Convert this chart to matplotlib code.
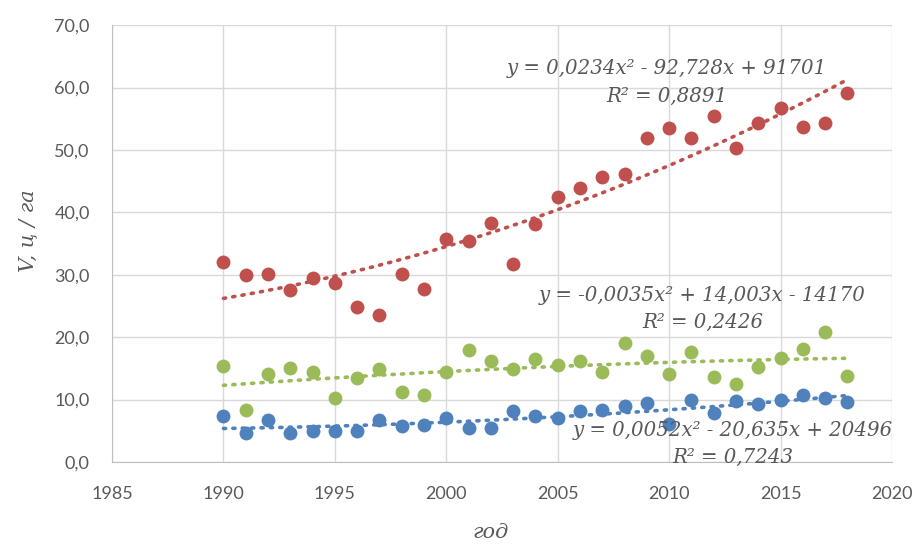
import matplotlib
matplotlib.use("Agg")
import matplotlib.pyplot as plt
from matplotlib.ticker import FuncFormatter, MultipleLocator
import numpy as np

years = list(range(1990, 2019))

red_vals = [32.1, 30.0, 30.2, 27.5, 29.5, 28.7, 24.8, 23.5, 30.2, 27.7,
            35.7, 35.4, 38.3, 31.8, 38.1, 42.5, 43.9, 45.7, 46.2, 51.9,
            53.5, 52.0, 55.5, 50.4, 54.3, 56.7, 53.7, 54.3, 59.2]
green_vals = [15.4, 8.3, 14.1, 15.1, 14.4, 10.2, 13.5, 14.9, 11.2, 10.7,
              14.4, 17.9, 16.2, 14.9, 16.5, 15.6, 16.2, 14.4, 19.1, 17.0,
              14.1, 17.6, 13.6, 12.5, 15.3, 16.7, 18.1, 20.9, 13.8]
blue_vals = [7.3, 4.6, 6.8, 4.6, 4.9, 4.9, 4.9, 6.8, 5.7, 5.9,
             7.0, 5.4, 5.4, 8.1, 7.3, 7.0, 8.1, 8.3, 9.0, 9.4,
             6.1, 9.9, 7.8, 9.8, 9.3, 9.9, 10.7, 10.2, 9.6]

eq_texts = [
    ("y = 0,0234x² - 92,728x + 91701", "R² = 0,8891"),
    ("y = -0,0035x² + 14,003x - 14170", "R² = 0,2426"),
    ("y = 0,0052x² - 20,635x + 20496", "R² = 0,7243"),
]

COLORS = ["#C0504D", "#9BBB59", "#4F81BD"]
TXT = "#595959"
GRID = "#D9D9D9"

fig = plt.figure(figsize=(9.22, 5.44), dpi=100)
ax = fig.add_axes([0.1215, 0.1507, 0.846, 0.803])

x = np.array(years, dtype=float)
for vals, col in zip([red_vals, green_vals, blue_vals], COLORS):
    y = np.array(vals)
    ax.scatter(x, y, s=100, color=col, linewidths=0, zorder=3)
    coef = np.polyfit(x, y, 2)
    xs = np.linspace(x[0], x[-1], 200)
    ax.plot(xs, np.polyval(coef, xs), color=col, lw=2.6,
            linestyle=(0, (0.6, 2.0)), dash_capstyle="round", zorder=4)

# equation labels (data coords)
pos = [(2009.9, 63.0, 58.6), (2011.5, 26.7, 22.3), (2012.85, 5.1, 0.7)]
for (eq, r2), (px, py1, py2) in zip(eq_texts, pos):
    ax.text(px, py1, eq, ha="center", va="center", fontsize=14.2,
            family="DejaVu Serif", style="italic", color=TXT, zorder=5)
    ax.text(px, py2, r2, ha="center", va="center", fontsize=14.2,
            family="DejaVu Serif", style="italic", color=TXT, zorder=5)

ax.set_xlim(1985, 2020)
ax.set_ylim(0, 70)
ax.xaxis.set_major_locator(MultipleLocator(5))
ax.yaxis.set_major_locator(MultipleLocator(10))
ax.yaxis.set_major_formatter(FuncFormatter(lambda v, p: f"{v:.1f}".replace(".", ",")))
ax.grid(True, color=GRID, lw=1.0, zorder=0)
ax.set_axisbelow(True)
for s in ["top", "right"]:
    ax.spines[s].set_visible(False)
for s in ["left", "bottom"]:
    ax.spines[s].set_color("#BFBFBF")
ax.tick_params(axis="y", length=0, pad=16, labelsize=13, labelcolor=TXT)
ax.tick_params(axis="x", length=0, pad=17, labelsize=13, labelcolor=TXT)
for lbl in ax.get_xticklabels() + ax.get_yticklabels():
    lbl.set_family("Lato")

ax.set_xlabel("год", family="DejaVu Serif", style="italic",
              fontsize=15, color=TXT)
ax.set_ylabel("V, ц / га", family="DejaVu Serif", style="italic",
              fontsize=15, color=TXT)
ax.xaxis.label.set_va("center")
ax.yaxis.label.set_va("center")
ax.xaxis.set_label_coords(0.485, -0.161)
ax.yaxis.set_label_coords(-0.108, 0.53)

fig.savefig("out.png", dpi=100)
